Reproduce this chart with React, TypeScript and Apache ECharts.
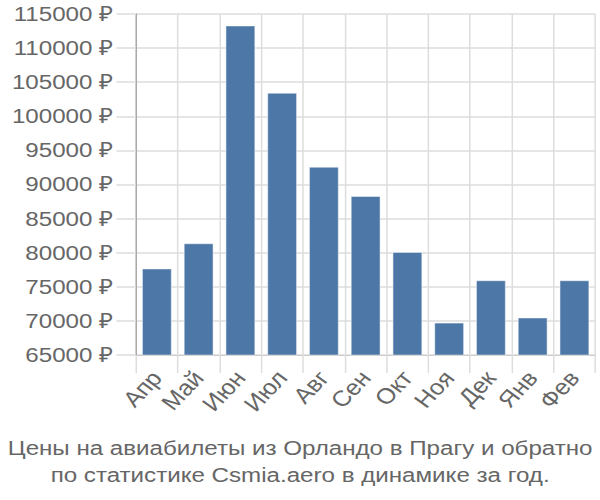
import React, { useEffect, useRef } from "react";
import * as echarts from "echarts";

const categories = ["Апр", "Май", "Июн", "Июл", "Авг", "Сен", "Окт", "Ноя", "Дек", "Янв", "Фев"];
const prices = [77700, 81400, 113300, 103450, 92600, 88330, 80100, 69750, 75960, 70490, 75960];
const yMin = 65000;
const yMax = 115000;
const yStep = 5000;
const titleLines = [
  "Цены на авиабилеты из Орландо в Прагу и обратно",
  "по статистике Csmia.aero в динамике за год.",
];

const STRETCH = 1.15;
const W = 600 / STRETCH;

export default function App() {
  const ref = useRef<HTMLDivElement>(null);
  useEffect(() => {
    document.body.style.margin = "0";
    if (!ref.current) return;
    const chart = echarts.init(ref.current, undefined, { renderer: "svg" });
    const font = "'Liberation Sans', Arial, sans-serif";
    chart.setOption({
      animation: false,
      title: {
        text: titleLines.join("\n"),
        left: "center",
        top: 430,
        textStyle: {
          fontFamily: font,
          fontSize: 21,
          fontWeight: "normal",
          color: "#666",
          lineHeight: 27,
        },
      },
      grid: { left: 136 / STRETCH, right: 5 / STRETCH, top: 14, bottom: 145 },
      xAxis: {
        type: "category",
        data: categories,
        axisLine: { show: true, lineStyle: { color: "#ccc", width: 1 } },
        axisTick: { show: true, length: 18, lineStyle: { color: "#ddd", width: 1.3 } },
        splitLine: { show: true, lineStyle: { color: "#ddd", width: 1.3 } },
        axisLabel: {
          rotate: 50,
          interval: 0,
          fontFamily: font,
          fontSize: 22,
          color: "#666",
          margin: 19,
        },
      },
      yAxis: {
        type: "value",
        min: yMin,
        max: yMax,
        interval: yStep,
        axisLine: { show: true, lineStyle: { color: "#aaa", width: 1.3 } },
        axisTick: { show: true, length: 17, lineStyle: { color: "#ddd", width: 1.5 } },
        splitLine: { show: true, lineStyle: { color: "#ddd", width: 1.5 } },
        axisLabel: {
          fontFamily: font,
          fontSize: 21,
          color: "#666",
          margin: 20,
          formatter: (v: number) => `${v} ₽`,
        },
      },
      series: [
        {
          type: "bar",
          data: prices,
          barWidth: "72%",
          itemStyle: {
            color: "#4c77a6",
            borderColor: "rgba(255,255,255,0.45)",
            borderWidth: 1,
          },
        },
      ],
    });
    return () => chart.dispose();
  }, []);
  return (
    <div
      ref={ref}
      style={{ width: W, height: 500, transform: `scaleX(${STRETCH})`, transformOrigin: "0 0" }}
    />
  );
}
